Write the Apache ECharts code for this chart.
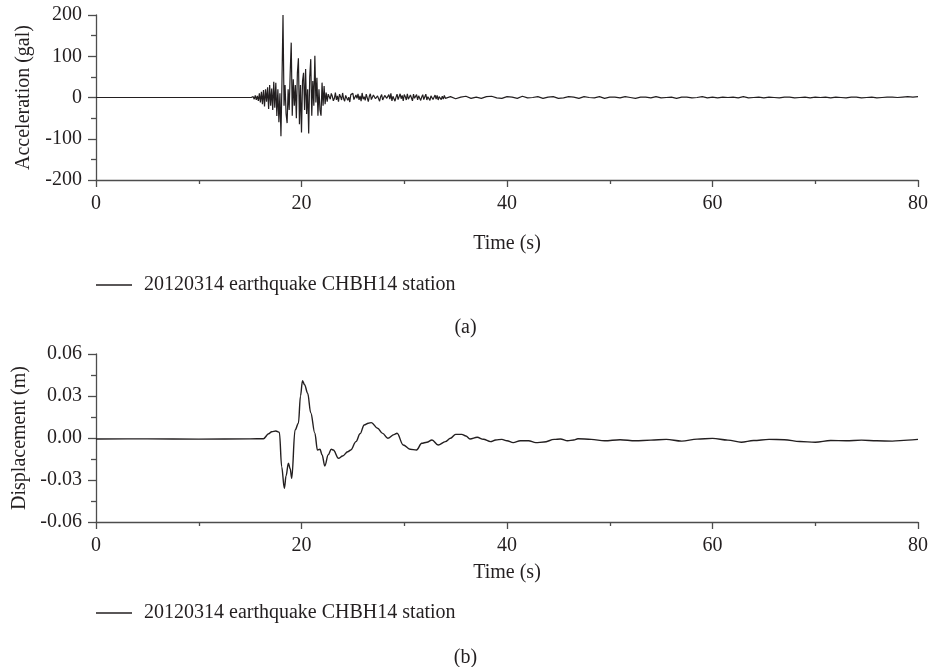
<!DOCTYPE html>
<html>
<head>
<meta charset="utf-8">
<title>20120314 earthquake CHBH14 station</title>
<script src="https://cdn.jsdelivr.net/npm/echarts@6/dist/echarts.min.js"></script>
<style>
  html, body { margin: 0; padding: 0; background: #ffffff; }
  #main { width: 931px; height: 667px; }
</style>
</head>
<body>
<div id="main"></div>
<script>
// Station record: 20120314 earthquake, CHBH14 station
const seriesName = '20120314 earthquake CHBH14 station';
const timeTicks = [0, 20, 40, 60, 80];
const accTicks = [-200, -100, 0, 100, 200];
const dispTicks = [-0.06, -0.03, 0.00, 0.03, 0.06];

// Acceleration (gal): quiet pre-event part
const accQuiet = [[0, 0], [15.1, 0]];

// Acceleration (gal): strong motion, sampled every 0.1 s from 15.2 s
const accStrongStart = 15.2, accStrongStep = 0.1;
const accStrong = [
  0, 2, -4, 5, -6, 4, -8, 10, -12, 14,
  -16, 18, -22, 20, -10, 25, -28, 30, -20, 22,
  -30, 38, -25, 36, -45, 20, -60, 10, -94, 40,
  200, -20, 30, -40, -62, 20, -30, 60, 133, -44,
  44, -20, 30, -50, 60, 95, -65, 30, -85, 40,
  60, -30, 69, -40, 20, -87, 50, 93, -44, 40,
  -20, 101, -12, 48, -44, 20, -30, -44, 36, -20,
  28, -16, 12, -10, 8
];

// Acceleration (gal): coda, sampled every 0.1 s from 22.7 s
const accCodaStart = 22.7, accCodaStep = 0.1;
const accCoda = [
  6, -4, 10, 3, -8, -2, 12, -6, 4, -10,
  8, 2, -6, 11, -3, -9, 5, 9, -7, 1,
  -11, 7, 3, 10, -5, -8, 6, -2, 9, -6,
  4, -9, 11, -4, 2, -7, 8, 5, -10, 3,
  9, -5, -8, 6, 10, -3, -7, 4, 8, -9,
  2, 7, -6, -10, 5, 9, -2, -6, 7, -4,
  10, -8, 3, 6, -9, 1, 8, -5, -7, 9,
  -3, 5, -8, 7, 2, -6, 9, -4, -7, 6,
  3, -8, 8, -2, -5, 7, -6, 4, 6, -7,
  1, 7, -5, -3, 8, -6, 2, 5, -7, 4,
  6, -5, -2, 6, -4, 5, -6, 2, 4, -5,
  3, -4, 5, -2
];

// Acceleration (gal): tail, sampled every 0.5 s from 34.5 s
const accTailStart = 34.5, accTailStep = 0.5;
const accTail = [
  2, -3, 1, 3, -2, 1, -2, 2, 3, -1, -2, 2,
  1, -2, 3, -1, 0, 2, -2, 1, 2, -2, -1, 2, 1, -2, 2, 0, -1, 2, -2, 1,
  1, -1, 2, 0, -2, 1, 1, -1, 2, -1, 0, 1, -2, 1, 1, -1, 0, 2, -1, 1,
  -1, 1, 0, 1, -1, 2, -1, 0, 1, -1, 1, 0, -1, 1, 1, -1, 0, 1, -1, 1,
  0, 1, -1, 1, 0, -1, 1, 1, -1, 0, 1, -1, 0, 1, 1, 0, 1, 2, 1, 2
];

// Displacement (m): [time (s), displacement]
const dispSamples = [
  [0, -0.0007], [5, -0.0006], [10, -0.0008], [15, -0.0006], [16.3, -0.0005],
  [16.8, 0.003], [17.1, 0.0045], [17.5, 0.005], [17.85, 0.004], [18.07, -0.0205],
  [18.33, -0.036], [18.5, -0.027], [18.72, -0.018], [18.9, -0.022], [19.05, -0.0288],
  [19.37, 0.0057], [19.7, 0.0105], [19.9, 0.03], [20.1, 0.041], [20.3, 0.038],
  [20.6, 0.032], [20.9, 0.018], [21.3, 0.0034], [21.55, -0.0086], [21.8, -0.008],
  [22.0, -0.012], [22.27, -0.02], [22.6, -0.012], [22.9, -0.008], [23.1, -0.0086],
  [23.6, -0.0145], [24.0, -0.0129], [24.5, -0.0098], [24.8, -0.0086], [25.3, -0.0026],
  [25.7, 0.003], [26.1, 0.0093], [26.5, 0.0105], [26.8, 0.011], [27.4, 0.007],
  [27.9, 0.0033], [28.4, -0.0002], [29.0, 0.0024], [29.3, 0.0034], [29.9, -0.005],
  [30.56, -0.008], [31.2, -0.0086], [31.7, -0.0038], [32.2, -0.003], [32.7, -0.0014],
  [33.3, -0.005], [34.0, -0.0026], [34.5, -0.0002], [35.0, 0.0026], [35.6, 0.0026],
  [36.0, 0.0014], [36.4, -0.0007], [37.1, 0.0005], [37.7, -0.0009], [38.4, -0.0026],
  [38.9, -0.0014], [39.5, -0.001], [40.0, -0.002], [40.6, -0.0033], [41.3, -0.002],
  [42.1, -0.002], [42.8, -0.0033], [43.6, -0.0029], [44.6, -0.001], [45.2, -0.0007],
  [45.9, -0.002], [46.5, -0.0014], [46.9, -0.0005], [48.2, -0.001], [49.5, -0.002],
  [51, -0.0012], [52.5, -0.002], [54, -0.0015], [55.5, -0.001], [57, -0.0022],
  [58.5, -0.0008], [60, -0.0003], [61.5, -0.0015], [62.8, -0.003], [64, -0.0018],
  [65.5, -0.001], [67, -0.0012], [68.5, -0.0025], [70, -0.003], [71.5, -0.0018],
  [73, -0.002], [74.5, -0.0015], [76, -0.002], [77.5, -0.0022], [79, -0.0015],
  [80, -0.001]
];

// Build [time, value] pairs for the acceleration trace
function sampled(start, step, values) {
  return values.map((v, i) => [Math.round((start + i * step) * 100) / 100, v]);
}
const accData = accQuiet
  .concat(sampled(accStrongStart, accStrongStep, accStrong))
  .concat(sampled(accCodaStart, accCodaStep, accCoda))
  .concat(sampled(accTailStart, accTailStep, accTail));

const FONT = 'Liberation Serif';
const INK = '#231f20';
const AXIS = '#4d4d4d';
const textBase = { fontFamily: FONT, fontSize: 20, color: INK };

function timeAxis(gridIndex, nameGap) {
  return {
    type: 'value', gridIndex,
    min: timeTicks[0], max: timeTicks[timeTicks.length - 1], interval: timeTicks[1] - timeTicks[0],
    name: 'Time (s)', nameLocation: 'middle', nameGap,
    nameTextStyle: textBase,
    axisLine: { show: true, onZero: false, lineStyle: { color: AXIS, width: 1.3 } },
    axisTick: { show: true, length: 7, lineStyle: { color: AXIS, width: 1.3 } },
    minorTick: { show: true, splitNumber: 2, length: 4, lineStyle: { color: AXIS, width: 1.3 } },
    splitLine: { show: false },
    axisLabel: Object.assign({ margin: 14 }, textBase)
  };
}

function valueAxis(gridIndex, ticks, name, fmt) {
  return {
    type: 'value', gridIndex,
    min: ticks[0], max: ticks[ticks.length - 1], interval: ticks[1] - ticks[0],
    name, nameLocation: 'middle', nameGap: 62,
    nameTextStyle: textBase,
    axisLine: { show: true, onZero: false, lineStyle: { color: AXIS, width: 1.3 } },
    axisTick: { show: true, length: 8, lineStyle: { color: AXIS, width: 1.3 } },
    minorTick: { show: true, splitNumber: 2, length: 5, lineStyle: { color: AXIS, width: 1.3 } },
    splitLine: { show: false },
    axisLabel: Object.assign({ margin: 14, formatter: fmt }, textBase)
  };
}

const legendStyle = {
  data: [{ name: seriesName, icon: 'rect' }],
  left: 96,
  padding: 0,
  itemWidth: 36,
  itemHeight: 1.4,
  selectedMode: false,
  textStyle: Object.assign({ padding: [0, 0, 0, 7] }, textBase)
};

const chart = echarts.init(document.getElementById('main'));
chart.setOption({
  animation: false,
  backgroundColor: '#ffffff',
  title: [
    { text: '(a)', left: 'center', top: 313, textStyle: Object.assign({ fontWeight: 'normal' }, textBase) },
    { text: '(b)', left: 'center', top: 643, textStyle: Object.assign({ fontWeight: 'normal' }, textBase) }
  ],
  legend: [
    Object.assign({ top: 275 }, legendStyle),
    Object.assign({ top: 603 }, legendStyle)
  ],
  grid: [
    { left: 96, top: 15, width: 822, height: 165 },
    { left: 96, top: 354, width: 822, height: 168 }
  ],
  xAxis: [timeAxis(0, 54), timeAxis(1, 41)],
  yAxis: [
    valueAxis(0, accTicks, 'Acceleration (gal)', v => String(v)),
    valueAxis(1, dispTicks, 'Displacement (m)', v => (Math.abs(v) < 1e-9 ? 0 : v).toFixed(2))
  ],
  series: [
    {
      name: seriesName, type: 'line', xAxisIndex: 0, yAxisIndex: 0,
      data: accData, symbol: 'none', showSymbol: false,
      lineStyle: { color: INK, width: 1.2 }, itemStyle: { color: INK }
    },
    {
      name: seriesName, type: 'line', xAxisIndex: 1, yAxisIndex: 1,
      data: dispSamples, symbol: 'none', showSymbol: false,
      smooth: 0.35, smoothMonotone: 'x',
      lineStyle: { color: INK, width: 1.4 }, itemStyle: { color: INK }
    }
  ]
});
</script>
</body>
</html>
